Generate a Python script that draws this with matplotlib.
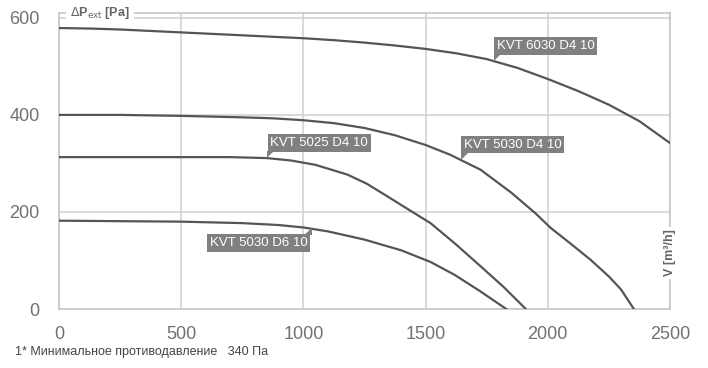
import matplotlib
matplotlib.use("Agg")
import matplotlib.pyplot as plt
from matplotlib.patches import Polygon
from matplotlib.transforms import IdentityTransform

plt.rcParams['font.family'] = ['Liberation Sans', 'DejaVu Sans']

# curves: airflow [m3/h] -> pressure [Pa]
q_6030_d4 = [0, 125, 250, 375, 500, 625, 750, 875, 1000, 1125, 1250, 1375, 1500,
             1625, 1750, 1875, 2000, 2125, 2250, 2375, 2500]
p_6030_d4 = [579, 578, 576, 573, 570, 567, 564, 561, 558, 554, 549, 543, 536,
             527, 515, 497, 474, 449, 421, 387, 342]

q_5030_d4 = [0, 250, 500, 750, 875, 1000, 1125, 1250, 1375, 1500, 1600, 1725,
             1850, 1950, 2012, 2100, 2176, 2250, 2300, 2352]
p_5030_d4 = [400, 400, 398, 395, 393, 389, 383, 373, 358, 338, 318, 287,
             240, 197, 167, 132, 101, 67, 40, 0]

q_5025_d4 = [0, 250, 500, 700, 850, 950, 1050, 1180, 1260, 1344, 1430, 1520,
             1620, 1725, 1820, 1910]
p_5025_d4 = [313, 313, 313, 313, 311, 306, 297, 277, 258, 232, 205, 177,
             135, 88, 45, 0]

q_5030_d6 = [0, 250, 500, 750, 900, 1000, 1100, 1250, 1400, 1520, 1620, 1725, 1830]
p_5030_d6 = [182, 181, 180, 177, 173, 168, 160, 143, 121, 97, 70, 36, 0]

names = ["KVT 6030 D4 10", "KVT 5030 D4 10", "KVT 5025 D4 10", "KVT 5030 D6 10"]
label_at = [(1780, 511), (1643, 308), (852, 311), (1037, 167)]

x_ticks = [0, 500, 1000, 1500, 2000, 2500]
y_ticks = [0, 200, 400, 600]

fig = plt.figure(figsize=(7.08, 3.68), dpi=100)
ax = fig.add_axes([59 / 708, 1 - 309 / 368, 611 / 708, 296 / 368])
ax.set_xlim(0, 2500)
ax.set_ylim(0, 610)

for q, p in [(q_6030_d4, p_6030_d4), (q_5030_d4, p_5030_d4),
             (q_5025_d4, p_5025_d4), (q_5030_d6, p_5030_d6)]:
    ax.plot(q, p, color='#555555', lw=1.6, zorder=3, solid_joinstyle='round')

ax.set_xticks(x_ticks)
ax.set_yticks(y_ticks)
ax.set_xticklabels([str(v) for v in x_ticks])
ax.set_yticklabels([str(v) for v in y_ticks])
ax.tick_params(length=0, labelsize=13, labelcolor='#727272')
ax.tick_params(axis='x', pad=12)
ax.tick_params(axis='y', pad=14)
ax.grid(True, color='#cfcfcf', lw=1.1)
for s in ax.spines.values():
    s.set_color('#c4c4c4')
    s.set_linewidth(1.1)

ax.text(0.018, 1.0, r"$\Delta$P$_{\rm ext}$ [Pa]", transform=ax.transAxes,
        ha='left', va='center', fontsize=9, color='#666666', zorder=5,
        fontweight='bold',
        bbox=dict(boxstyle='square,pad=0.3', fc='white', ec='none'))
ax.text(1.0, 0.19, "V [m³/h]", transform=ax.transAxes, rotation=90,
        ha='center', va='center', fontsize=9, color='#666666', zorder=5,
        fontweight='bold',
        bbox=dict(boxstyle='square,pad=0.2', fc='white', ec='none'))

# callout labels
fig.canvas.draw()
for i, (name, (x, y)) in enumerate(zip(names, label_at)):
    px, py = ax.transData.transform((x, y))
    box = dict(boxstyle='square,pad=0.2', fc='#808080', ec='none')
    if i == 3:
        ax.annotate(name, xy=(x, y), xytext=(-5, -9), textcoords='offset pixels',
                    ha='right', va='top', fontsize=9.5, color='white', bbox=box, zorder=6)
        tail = [(px, py), (px, py - 7), (px - 8, py - 7)]
    else:
        ax.annotate(name, xy=(x, y), xytext=(3, 9), textcoords='offset pixels',
                    ha='left', va='bottom', fontsize=9.5, color='white', bbox=box, zorder=6)
        tail = [(px, py), (px, py + 7), (px + 7, py + 7)]
    ax.add_patch(Polygon(tail, closed=True, fc='#808080', ec='none',
                         transform=IdentityTransform(), clip_on=False, zorder=6))

fig.text(15 / 708, 1 - 352 / 368, "1* Минимальное противодавление   340 Па",
         ha='left', va='center', fontsize=9, color='#444444')

fig.savefig("out.png", dpi=100)
